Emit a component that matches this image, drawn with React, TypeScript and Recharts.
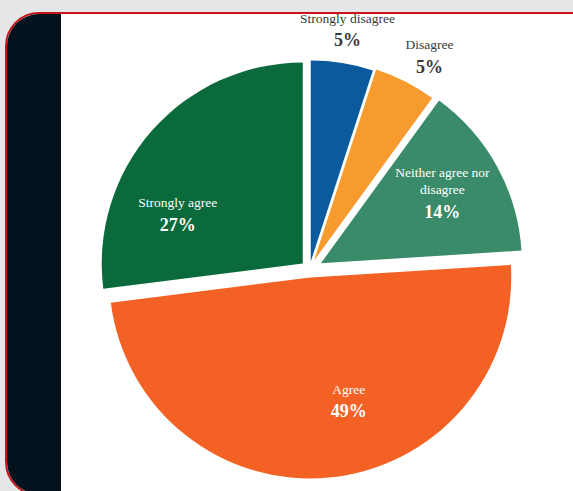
import React from 'react';
import { PieChart, Pie, Cell } from 'recharts';

// ---- data ----
const categories = ['Strongly disagree', 'Disagree', 'Neither agree nor disagree', 'Agree', 'Strongly agree'];
const shares = [5, 5, 14, 49, 27];
const shareLabels = ['5%', '5%', '14%', '49%', '27%'];

// ---- style / layout constants ----
const COLORS = ['#0c5a9e', '#f89b2e', '#3a8b69', '#f36224', '#0a6a3c'];
const INSIDE = [false, false, true, true, true];
const EXPLODE = [8, 10, 13, 8, 9];
const LABEL_RADIUS = [1.17, 1.17, 0.7, 0.64, 0.67];
const LABEL_TURN = [0, 2.4, -1.5, -12, -19.6];

const W = 573;
const H = 491;
const CX = 309.5;
const CY = 269.5;
const R = 201;
const FONT = '"Liberation Serif", "DejaVu Serif", serif';

const data = categories.map((name, i) => ({ name, value: shares[i] }));
const total = shares.reduce((a, b) => a + b, 0);

function explodeOffset(i: number) {
  const before = shares.slice(0, i).reduce((a, b) => a + b, 0);
  const mid = ((before + shares[i] / 2) / total) * 2 * Math.PI; // clockwise from top
  return { dx: EXPLODE[i] * Math.sin(mid), dy: -EXPLODE[i] * Math.cos(mid) };
}

function wrap(text: string, max: number): string[] {
  const words = text.split(' ');
  const lines: string[] = [];
  let cur = '';
  words.forEach((w) => {
    const next = cur ? cur + ' ' + w : w;
    if (next.length > max && cur) {
      lines.push(cur);
      cur = w;
    } else {
      cur = next;
    }
  });
  if (cur) lines.push(cur);
  return lines;
}

const makeLabel = (target: number) => (props: any) => {
  const { cx, cy, midAngle, outerRadius, index } = props;
  if (index !== target) return null;
  const theta = ((90 - midAngle + LABEL_TURN[index]) * Math.PI) / 180;
  const r = outerRadius * LABEL_RADIUS[index];
  const x = cx + r * Math.sin(theta);
  const y = cy - r * Math.cos(theta);
  const lines = wrap(categories[index], 17);
  const lh = 17;
  const gap = 22;
  const totalH = (lines.length - 1) * lh + gap;
  const top = y - totalH / 2;
  const fill = INSIDE[index] ? '#ffffff' : '#3a3a3a';
  return (
    <g>
      {lines.map((l, k) => (
        <text
          key={k}
          x={x}
          y={top + k * lh}
          textAnchor="middle"
          dominantBaseline="central"
          fontSize={13.5}
          fontFamily={FONT}
          fill={fill}
        >
          {l}
        </text>
      ))}
      <text
        x={x}
        y={top + (lines.length - 1) * lh + gap}
        textAnchor="middle"
        dominantBaseline="central"
        fontSize={18}
        fontWeight="bold"
        fontFamily={FONT}
        fill={fill}
      >
        {shareLabels[index]}
      </text>
    </g>
  );
};

export default function App() {
  return (
    <div
      style={{
        position: 'fixed',
        left: 0,
        top: 0,
        width: W,
        height: H,
        background: '#e5e6e8',
        overflow: 'hidden',
      }}
    >
      <div
        style={{
          position: 'absolute',
          left: 5,
          top: 12,
          width: 620,
          height: 484,
          border: '2px solid #c8131c',
          borderRadius: 34,
          background: '#ffffff',
          overflow: 'hidden',
          boxSizing: 'border-box',
        }}
      >
        <div
          style={{
            position: 'absolute',
            left: 0,
            top: 0,
            bottom: 0,
            width: 54,
            background: '#05131f',
          }}
        />
      </div>
      <div style={{ position: 'absolute', left: 0, top: 0 }}>
        <PieChart width={W} height={H} margin={{ top: 0, right: 0, bottom: 0, left: 0 }}>
          {categories.map((_, i) => {
            const { dx, dy } = explodeOffset(i);
            return (
              <Pie
                key={i}
                data={data}
                dataKey="value"
                nameKey="name"
                cx={CX + dx}
                cy={CY + dy}
                outerRadius={R}
                startAngle={90}
                endAngle={-270}
                stroke="none"
                isAnimationActive={false}
                labelLine={false}
                label={makeLabel(i)}
              >
                {data.map((_, j) => (
                  <Cell key={j} fill={j === i ? COLORS[j] : 'transparent'} stroke="none" />
                ))}
              </Pie>
            );
          })}
        </PieChart>
      </div>
    </div>
  );
}
